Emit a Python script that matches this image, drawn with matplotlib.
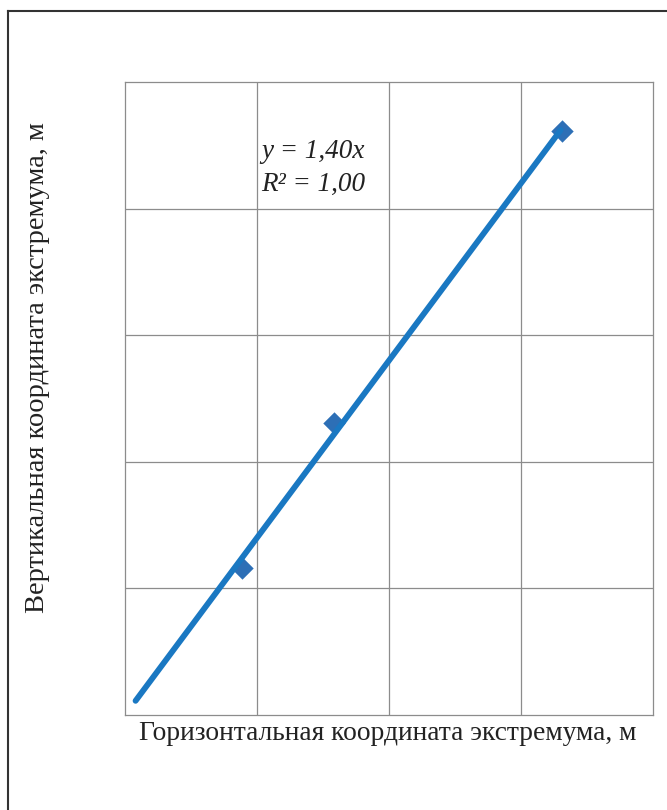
import matplotlib.pyplot as plt
import matplotlib.lines as mlines
import numpy as np

# measured extremum coordinates (grid units)
x_pts = [0.89, 1.58, 3.31]
y_pts = [1.16, 2.31, 4.61]
slope = 1.40
r2 = 1.00
fit_x = [0.08, 3.30]

plt.rcParams["font.family"] = ["Liberation Serif", "DejaVu Serif"]

fig = plt.figure(figsize=(6.67, 8.10), dpi=100)
ax = fig.add_axes([125 / 667, 95 / 810, 528 / 667, 633 / 810])

ax.scatter(x_pts, y_pts, marker="D", s=130, color="#2d6fb6", zorder=3, linewidths=0)
fx = np.array(fit_x)
ax.plot(fx, slope * fx, color="#1a78c2", lw=4.2, solid_capstyle="round", zorder=4)

ax.set_xlim(0, 4)
ax.set_ylim(0, 5)
ax.set_xticks([1, 2, 3])
ax.set_yticks([1, 2, 3, 4])
ax.tick_params(length=0, labelbottom=False, labelleft=False)
ax.grid(True, color="#8c8c8c", lw=0.9)
ax.set_axisbelow(True)
for s in ax.spines.values():
    s.set_color("#8c8c8c")
    s.set_linewidth(0.9)

ax.text(1.03, 4.45, f"y = {slope:.2f}x".replace(".", ","), fontsize=19.5,
        style="italic", va="center", ha="left", color="#222222")
ax.text(1.03, 4.19, f"R² = {r2:.2f}".replace(".", ","), fontsize=19.5,
        style="italic", va="center", ha="left", color="#222222")

fig.text(388 / 667, 1 - 734 / 810, "Горизонтальная координата экстремума, м",
         ha="center", va="center", fontsize=19.8, color="#222222")
fig.text(38 / 667, 1 - 368 / 810, "Вертикальная координата экстремума, м",
         ha="center", va="center", rotation=90, fontsize=20.5, color="#222222")

# frame around the figure (top and left edges only)
fig.add_artist(mlines.Line2D([8 / 667, 8 / 667], [0, 1 - 11 / 810],
                             transform=fig.transFigure, color="#333333", lw=1.5))
fig.add_artist(mlines.Line2D([8 / 667, 1], [1 - 11 / 810, 1 - 11 / 810],
                             transform=fig.transFigure, color="#333333", lw=1.5))

fig.savefig("out.png", dpi=100)
